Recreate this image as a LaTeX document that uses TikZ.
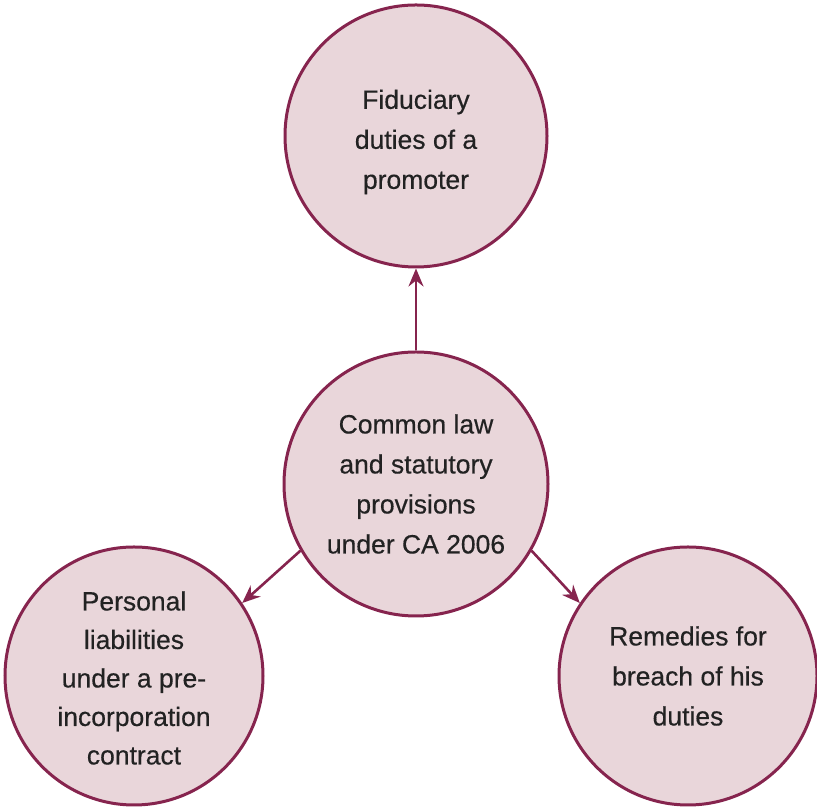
\documentclass[tikz,border=0pt]{standalone}
\usepackage{fontspec}
\setmainfont[FakeBold=0.4]{Liberation Sans}
\usetikzlibrary{arrows.meta}
\definecolor{bubblefill}{HTML}{E9D6DA}
\definecolor{bubbleedge}{HTML}{86244E}
\definecolor{bubbletext}{HTML}{222222}
\begin{document}
\begin{tikzpicture}[x=1pt,y=1pt,
  bubble/.style={circle, draw=bubbleedge, fill=bubblefill, line width=3pt,
    inner sep=0pt},
  caption/.style={align=center, text=bubbletext, inner sep=0pt,
    font=\fontsize{26.5}{40}\selectfont},
  link/.style={draw=bubbleedge, line width=2.6pt,
    -{Stealth[length=18pt,width=15pt,inset=6pt]}}]
  \useasboundingbox (0,0) rectangle (817,810);
  % the four circles
  \node[bubble, minimum size=262pt] (top) at (416,674) {};
  \node[bubble, minimum size=264pt] (mid) at (416,326) {};
  \node[bubble, minimum size=258pt] (left) at (134,134) {};
  \node[bubble, minimum size=258pt] (right) at (688,134) {};
  % their texts
  \node[caption] (toptext) at ([yshift=-6pt]top.center)
    {Fiduciary\\duties of a\\promoter};
  \node[caption] (midtext) at (mid.center)
    {Common law\\and statutory\\provisions\\under CA 2006};
  \node[caption, font=\fontsize{26.5}{38.5}\selectfont] (lefttext)
    at ([yshift=-2pt]left.center)
    {Personal\\liabilities\\under a pre-\\incorporation\\contract};
  \node[caption] (righttext) at (right.center)
    {Remedies for\\breach of his\\duties};
  % connectors from the central circle
  \draw[link] (mid.north) -- (top.south);
  \draw[link] (mid.-150) -- (left.34);
  \draw[link] (mid.-30) -- (right.146);
\end{tikzpicture}
\end{document}
